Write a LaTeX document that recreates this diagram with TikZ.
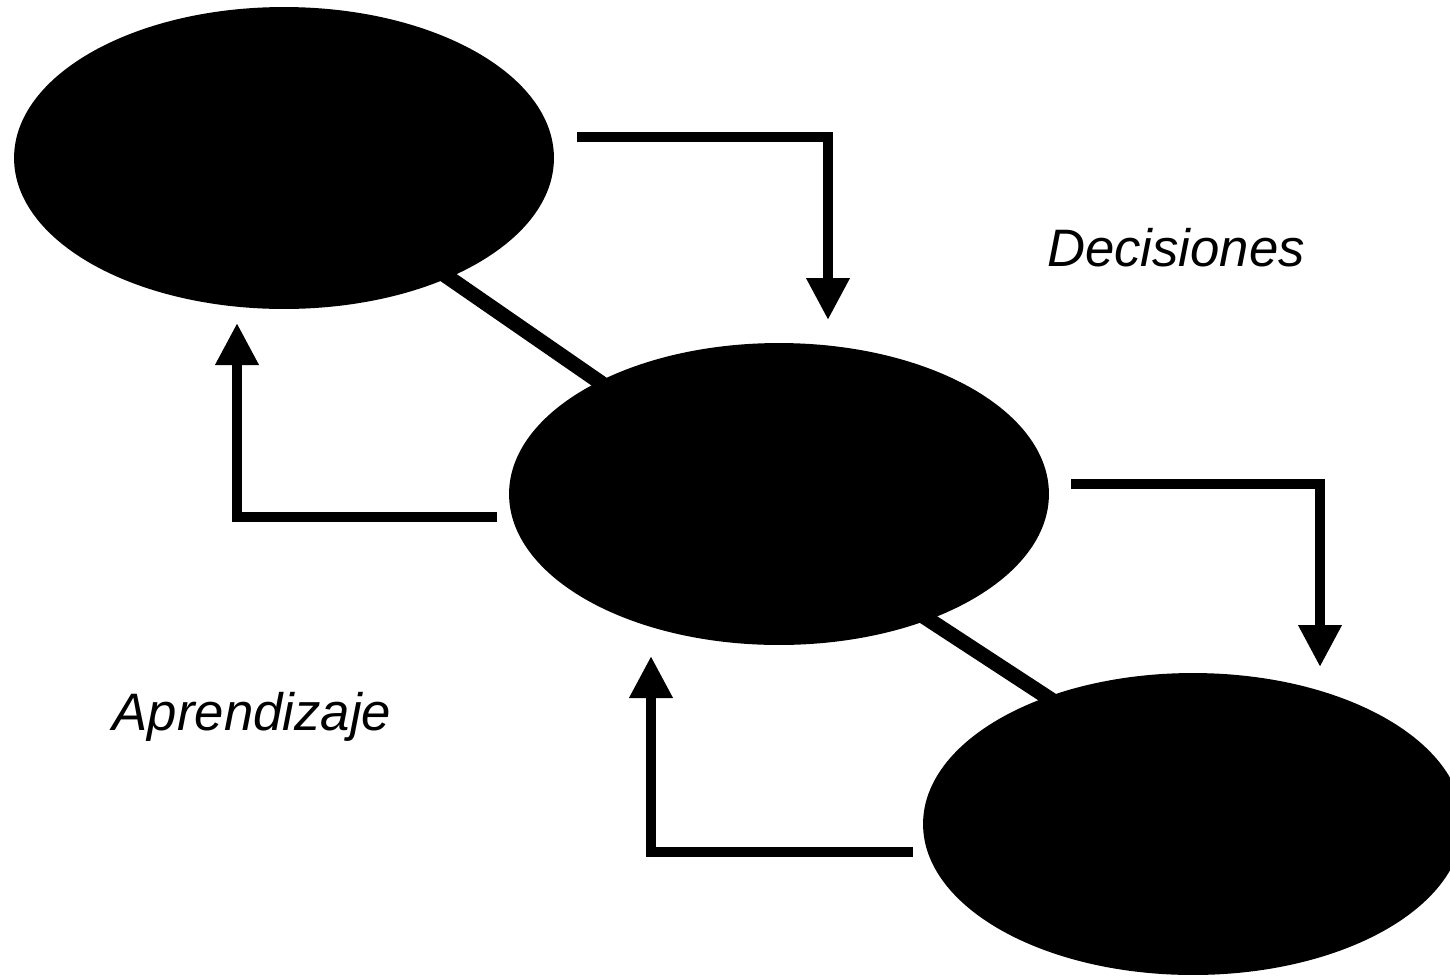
\documentclass[tikz,border=0pt]{standalone}
\usepackage{fontspec}
\setmainfont{Liberation Sans}
\usepackage{tikz}
\usetikzlibrary{
  arrows.meta,
  shapes.geometric,
  backgrounds
}
\tikzset{
  blob/.style={
    ellipse,
    fill=black,
    minimum width=10.8cm,
    minimum height=6.04cm,
    inner sep=0pt,
  },
  link/.style={
    line width=0.3cm,
    draw=black,
    shorten <=-0.4cm,
    shorten >=-0.4cm,
  },
  arr/.style={
    -{Triangle[length=0.84cm, width=0.82cm]},
    line width=0.2cm,
    line join=miter,
    draw=black,
  },
  lbl/.style={
    font=\fontsize{30}{36}\selectfont\itshape,
    inner sep=0pt,
    anchor=base,
  },
}

\begin{document}
\begin{tikzpicture}[x=0.02cm, y=-0.02cm]
  \useasboundingbox (0,0) rectangle (1450,978);

  % Ellipses, top left to bottom right
  \node[blob] (top) at (284,158) {};
  \node[blob] (mid) at (779,494) {};
  \node[blob] (low) at (1193,824) {};

  \begin{scope}[on background layer]
    \draw[link] (top.-36) -- (mid.148);
    \draw[link] (mid.-40) -- (low.139);
  \end{scope}

  % Decisiones --- going down
  \coordinate (dec1s) at (577,137);
  \coordinate (dec1t) at (828,320);
  \coordinate (dec2s) at (1071,484);
  \coordinate (dec2t) at (1320,667);
  \draw[arr] (dec1s) -| (dec1t);
  \draw[arr] (dec2s) -| (dec2t);

  % Aprendizaje --- going back up
  \coordinate (apr1s) at (497,517);
  \coordinate (apr1t) at (237,323);
  \coordinate (apr2s) at (913,852);
  \coordinate (apr2t) at (651,656);
  \draw[arr] (apr1s) -| (apr1t);
  \draw[arr] (apr2s) -| (apr2t);

  \node[lbl] (dec) at (1176,266) {Decisiones};
  \node[lbl] (apr) at (252,730) {Aprendizaje};
\end{tikzpicture}
\end{document}
